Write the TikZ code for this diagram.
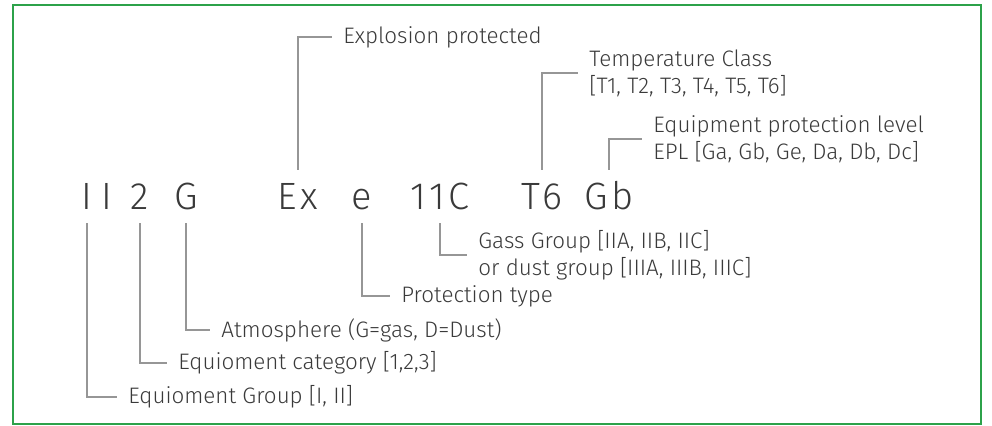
\documentclass[tikz,border=0pt]{standalone}
\usepackage{fontspec}
\setmainfont{Fira Sans Light}
\newfontfamily\markfont[LetterSpace=9]{Fira Sans Light}
\usetikzlibrary{positioning}
\definecolor{framegreen}{RGB}{44,162,74}
\definecolor{leadgray}{RGB}{150,150,150}
\definecolor{inkgray}{RGB}{58,58,58}

\begin{document}
\begin{tikzpicture}[
  x=0.5pt, y=-0.5pt,
  code/.style={anchor=base, inner sep=0pt, text=inkgray,
    font=\markfont\fontsize{19}{19}\selectfont, text height=20pt, text depth=6.5pt},
  lbl/.style={anchor=west, inner xsep=5.5pt, inner ysep=0pt, align=left,
    text=inkgray, font=\fontsize{11.2}{13.5}\selectfont},
  lead/.style={draw=leadgray, line width=0.6pt}]
\useasboundingbox (0,0) rectangle (992,426);
\draw[framegreen, line width=1.3pt] (13,5) rectangle (981,424);
% marking code
\node[code] (grpA) at (87,210) {I};
\node[code] (grpB) at (107,210) {I};
\node[code] (cat) at (140,210) {2};
\node[code] (atm) at (186,210) {G};
\node[code] (ex) at (298,210) {Ex};
\node[code] (prot) at (362,210) {e};
\node[code] (gas) at (440,210) {11C};
\node[code] (temp) at (542,210) {T6};
\node[code] (epl) at (609,210) {Gb};
% explanations
\node[lbl] (grpL) at (117,397) {Equioment Group [I, II]};
\node[lbl] (catL) at (167,363) {Equioment category [1,2,3]};
\node[lbl] (atmL) at (210,330) {Atmosphere (G=gas, D=Dust)};
\node[lbl] (protL) at (390,296) {Protection type};
\node[lbl] (gasL) at (467,255) {Gass Group [IIA, IIB, IIC]\\or dust group [IIIA, IIIB, IIIC]};
\node[lbl] (exL) at (332,37) {Explosion protected};
\node[lbl] (tempL) at (578,73) {Temperature Class\\{}[T1, T2, T3, T4, T5, T6]};
\node[lbl] (eplL) at (642,139) {Equipment protection level\\EPL [Ga, Gb, Ge, Da, Db, Dc]};
% leaders
\draw[lead] (grpA.south) |- (grpL.west);
\draw[lead] (cat.south) |- (catL.west);
\draw[lead] (atm.south) |- (atmL.west);
\draw[lead] (prot.south) |- (protL.west);
\draw[lead] (gas.south) |- (gasL.west);
\draw[lead] (ex.north) |- (exL.west);
\draw[lead] (temp.north) |- (tempL.west);
\draw[lead] (epl.north) |- (eplL.west);
\end{tikzpicture}
\end{document}
